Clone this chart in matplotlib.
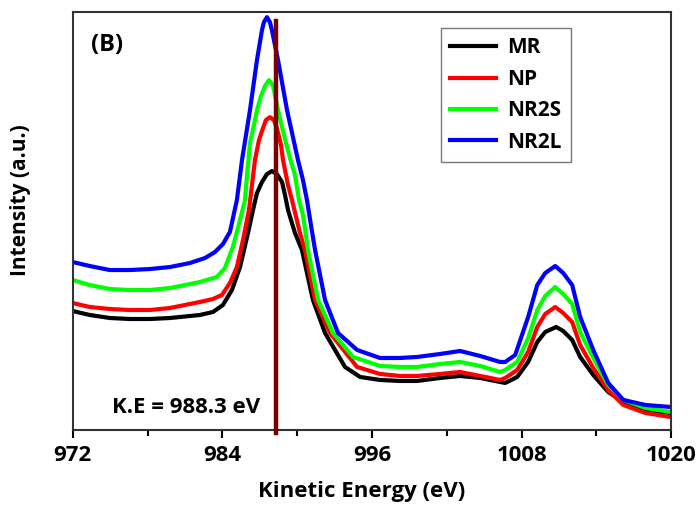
import matplotlib.pyplot as plt
from matplotlib.ticker import MultipleLocator

plt.rcParams['font.family'] = ['Open Sans', 'DejaVu Sans']
plt.rcParams['font.weight'] = 'bold'

# Kinetic energy (eV) and intensity (a.u.) for each sample
ke_mr = [972.00, 973.36, 974.97, 976.58, 978.18, 979.79, 982.19, 983.24, 984.04, 984.76,
         985.41, 986.05, 986.45, 986.77, 987.17, 987.57, 987.97, 988.37, 988.78, 989.02,
         989.26, 989.82, 990.38, 991.26, 992.23, 993.83, 995.04, 996.64, 998.25, 999.61,
         1001.46, 1003.06, 1004.67, 1006.27, 1006.68, 1007.64, 1008.52, 1009.25, 1009.89,
         1010.77, 1011.33, 1012.05, 1012.69, 1013.74, 1014.94, 1016.15, 1017.91, 1019.92]
int_mr = [119, 115, 112, 111, 111, 112, 115, 118, 125, 140,
          163, 197, 220, 237, 248, 256, 259, 256, 248, 235,
          220, 197, 180, 130, 97, 63, 53, 50, 49, 49,
          52, 54, 52, 48, 47, 53, 68, 88, 98,
          103, 99, 90, 73, 55, 38, 28, 20, 17]

ke_np = [972.00, 973.36, 974.97, 976.58, 978.18, 979.79, 982.19, 983.24, 983.96, 984.60,
         985.16, 985.65, 986.13, 986.37, 986.61, 986.93, 987.25, 987.49, 987.81, 988.13,
         988.37, 988.70, 988.86, 989.26, 989.58, 990.22, 990.62, 991.43, 992.63, 994.80,
         996.64, 998.25, 999.61, 1001.46, 1003.06, 1004.67, 1006.27, 1006.68, 1007.64,
         1008.52, 1009.25, 1009.89, 1010.69, 1011.33, 1012.05, 1012.69, 1013.74, 1014.94,
         1016.15, 1017.91, 1019.92]
int_np = [127, 123, 121, 120, 120, 122, 128, 131, 135, 147,
          163, 190, 220, 245, 270, 290, 302, 310, 313, 310,
          302, 285, 270, 245, 230, 197, 180, 130, 97, 63,
          56, 54, 54, 56, 58, 54, 50, 52, 60,
          78, 103, 116, 123, 117, 108, 85, 62, 40,
          25, 17, 13]

ke_nr2s = [972.00, 973.36, 974.97, 976.58, 978.18, 979.79, 982.19, 983.56, 984.20, 984.84,
           985.41, 985.81, 985.97, 986.21, 986.53, 986.77, 987.09, 987.41, 987.73, 988.05,
           988.46, 988.78, 989.10, 989.42, 989.82, 990.14, 990.46, 990.86, 991.67, 992.87,
           994.48, 996.64, 998.25, 999.61, 1001.46, 1003.06, 1004.67, 1006.27, 1006.68,
           1007.64, 1008.52, 1009.25, 1009.89, 1010.69, 1011.33, 1012.05, 1012.69, 1013.74,
           1014.94, 1016.15, 1017.91, 1019.92]
int_nr2s = [150, 145, 141, 140, 140, 142, 148, 153, 162, 183,
            210, 230, 255, 287, 305, 320, 334, 344, 350, 345,
            320, 303, 287, 272, 255, 230, 215, 180, 130, 97,
            73, 64, 63, 63, 66, 68, 64, 58, 60,
            68, 92, 120, 134, 143, 136, 126, 98, 72,
            45, 30, 22, 18]

ke_nr2l = [972.00, 973.36, 974.97, 976.58, 978.18, 979.79, 981.39, 982.60, 983.40, 984.04,
           984.60, 985.16, 985.57, 986.21, 986.77, 987.17, 987.33, 987.57, 987.81, 987.97,
           988.46, 989.18, 990.06, 990.46, 990.78, 991.10, 991.43, 992.23, 993.27, 994.80,
           996.64, 998.25, 999.61, 1001.46, 1003.06, 1004.67, 1006.27, 1006.68, 1007.48,
           1008.52, 1009.25, 1009.89, 1010.69, 1011.33, 1012.05, 1012.69, 1013.74, 1014.94,
           1016.15, 1017.91, 1019.92]
int_nr2l = [168, 164, 160, 160, 161, 163, 167, 172, 178, 186,
            198, 230, 270, 320, 370, 400, 408, 413, 408, 400,
            370, 320, 270, 250, 230, 205, 180, 130, 97, 80,
            72, 72, 73, 76, 79, 74, 68, 68, 75,
            113, 145, 157, 164, 157, 145, 113, 80, 47,
            30, 25, 23]

peak_ke = 988.3
x_ticks = [972, 984, 996, 1008, 1020]

fig = plt.figure(figsize=(7, 5.07), dpi=100)
ax = fig.add_axes([0.104, 0.152, 0.855, 0.824])

ax.plot(ke_mr, int_mr, color='black', lw=3, label='MR')
ax.plot(ke_np, int_np, color='#ff0000', lw=3, label='NP')
ax.plot(ke_nr2s, int_nr2s, color='#00ff00', lw=3, label='NR2S')
ax.plot(ke_nr2l, int_nr2l, color='#0000ff', lw=3, label='NR2L')

# peak position marker
ax.axvline(peak_ke, ymin=-0.008, ymax=0.98, color='#7a0000', lw=3.2,
           clip_on=False, zorder=5)
ax.text(987.0, 22, f'K.E = {peak_ke} eV', ha='right', va='center',
        fontsize=16, fontweight='bold')
ax.text(973.45, 385, '(B)', ha='left', va='center', fontsize=17, fontweight='bold')

ax.set_xlim(972, 1020)
ax.set_ylim(0, 418)
ax.set_xticks(x_ticks)
ax.xaxis.set_minor_locator(MultipleLocator(6))
ax.set_yticks([])
ax.tick_params(axis='x', which='major', direction='out', length=6, width=1.5,
               labelsize=16, pad=5)
ax.tick_params(axis='x', which='minor', direction='out', length=4, width=1.5)
for lbl in ax.get_xticklabels():
    lbl.set_fontweight('bold')
for sp in ax.spines.values():
    sp.set_linewidth(1.5)
    sp.set_color('#333333')

ax.set_xlabel('Kinetic Energy (eV)', fontsize=16, fontweight='bold')
ax.xaxis.set_label_coords(0.482, -0.122)
ax.set_ylabel('Intensity (a.u.)', fontsize=15, fontweight='bold')
ax.yaxis.set_label_coords(-0.07, 0.55)

leg = ax.legend(loc='upper left', bbox_to_anchor=(0.615, 0.962), borderaxespad=0,
                fontsize=15, frameon=True, fancybox=False, handlelength=2.2,
                handletextpad=0.55, labelspacing=0.5, borderpad=0.45)
leg.get_frame().set_edgecolor('#555555')
leg.get_frame().set_linewidth(1)
for t in leg.get_texts():
    t.set_fontweight('bold')

fig.savefig('out.png', dpi=100)
